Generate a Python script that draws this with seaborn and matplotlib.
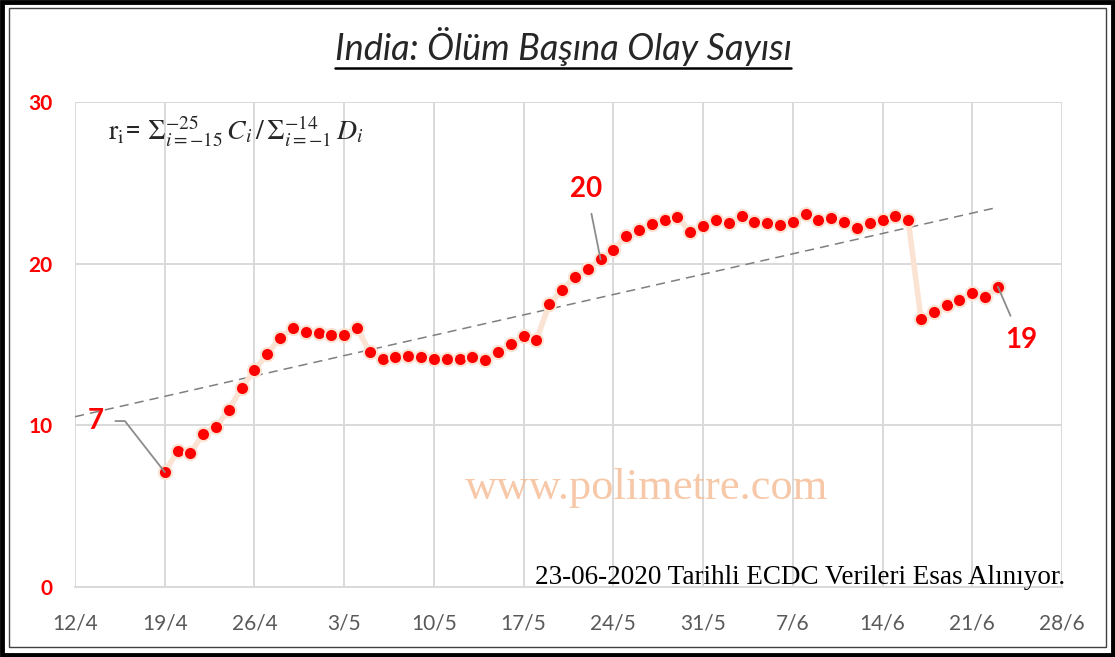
import numpy as np
import pandas as pd
import seaborn as sns
import matplotlib.pyplot as plt
from matplotlib.patches import Rectangle
from matplotlib.lines import Line2D

# daily values, 19/4/2020 - 23/6/2020
start_date = "2020-04-19"
ratio = [7.11, 8.39, 8.27, 9.48, 9.88, 10.97, 12.33,
         13.42, 14.41, 15.42, 16.02, 15.79, 15.69, 15.60,
         15.60, 16.02, 14.53, 14.10, 14.20, 14.30, 14.20,
         14.08, 14.08, 14.08, 14.20, 14.02, 14.51, 15.01,
         15.52, 15.29, 17.48, 18.37, 19.17, 19.65, 20.27,
         20.84, 21.71, 22.10, 22.43, 22.70, 22.90, 21.94,
         22.31, 22.70, 22.51, 22.92, 22.59, 22.51, 22.41,
         22.59, 23.09, 22.70, 22.80, 22.59, 22.20, 22.51,
         22.70, 22.92, 22.70, 16.57, 16.99, 17.46, 17.77,
         18.16, 17.95, 18.57]
tick_start = "2020-04-12"
tick_end = "2020-06-28"
y_ticks = [0, 10, 20, 30]
labels = {0: "7", 34: "20", 65: "19"}   # index -> label text

title = "India: Ölüm Başına Olay Sayısı"
footer = "23-06-2020 Tarihli ECDC Verileri Esas Alınıyor."
watermark = "www.polimetre.com"

df = pd.DataFrame({"date": pd.date_range(start_date, periods=len(ratio), freq="D"),
                   "ratio": ratio})

sns.set_style("white")
plt.rcParams['font.family'] = ['Lato', 'DejaVu Sans']
plt.rcParams['mathtext.fontset'] = 'stix'

fig = plt.figure(figsize=(11.15, 6.57), dpi=100)
ax = fig.add_axes([75 / 1115, 1 - 587 / 657, (1062 - 75) / 1115, (587 - 102) / 657])

# linear trendline, forecast back to the first tick
t0 = pd.Timestamp(tick_start)
days = (df["date"] - t0).dt.days.values
k, b = np.polyfit(days, df["ratio"].values, 1)
tr_days = np.array([0, days[-1]])
ax.plot(t0 + pd.to_timedelta(tr_days, unit="D"), k * tr_days + b,
        color="#7f7f7f", lw=1.1, ls=(0, (6, 4)), zorder=2)

sns.lineplot(data=df, x="date", y="ratio", ax=ax, color="#FBE3D4", lw=4,
             marker="o", markersize=9.5, markerfacecolor="red",
             markeredgecolor="#FBE3D4", markeredgewidth=1.5, zorder=3)

ticks = pd.date_range(tick_start, tick_end, freq="7D")
ax.set_xticks(ticks)
ax.set_xticklabels([f"{d.day}/{d.month}" for d in ticks], color="#595959", fontsize=15)
ax.set_xlim(ticks[0], ticks[-1])
ax.set_ylim(0, 30)
ax.set_yticks(y_ticks)
ax.set_yticklabels([str(v) for v in y_ticks], color="red", fontsize=15, fontweight="bold")
ax.tick_params(axis="x", length=0, pad=19)
ax.tick_params(axis="y", length=0, pad=16)
ax.grid(True, color="#D9D9D9", lw=1.4)
ax.set_axisbelow(True)
for s in ["top", "right", "left"]:
    ax.spines[s].set_visible(False)
ax.spines["bottom"].set_color("#D9D9D9")
ax.spines["bottom"].set_linewidth(1.4)
ax.set_xlabel("")
ax.set_ylabel("")

# point labels
offsets = {0: (-69, 51), 34: (-14, 70), 65: (23, -53)}
for i, txt in labels.items():
    ax.annotate(txt, xy=(df["date"][i], df["ratio"][i]), xytext=offsets[i],
                textcoords="offset pixels", ha="center", va="center",
                color="red", fontsize=20, fontweight="bold",
                arrowprops=dict(arrowstyle="-", color="#8c8c8c", lw=1.3,
                                shrinkA=6, shrinkB=0,
                                connectionstyle="angle,angleA=0,angleB=128,rad=0" if i == 0 else "arc3"))

ax.text(0.033, 0.94, r"$\mathrm{r_i}$= $\Sigma_{i=-15}^{-25}\,C_i\,/\,\Sigma_{i=-1}^{-14}\,D_i$",
        transform=ax.transAxes, fontsize=20, va="center", ha="left")

ax.text(0.579, 0.205, watermark, transform=ax.transAxes, fontsize=32,
        family="Liberation Serif", color="#F4B183", alpha=0.7, ha="center", va="center")
ax.text(1.003, 0.007, footer, transform=ax.transAxes, fontsize=19.5,
        family="Liberation Serif", color="black", ha="right", va="baseline")

# title with underline
t = fig.text(563 / 1115, 1 - 47 / 657, title, fontsize=26, style="italic",
             ha="center", va="center")
fig.canvas.draw()
bb = t.get_window_extent()
fig.add_artist(Line2D([bb.x0 / 1115, bb.x1 / 1115], [(bb.y0 - 1) / 657] * 2,
                      color="black", lw=1.8))

# double frame
fig.add_artist(Rectangle((0.002, 0.003), 0.996, 0.994, transform=fig.transFigure,
                         fill=False, ec="black", lw=3.5))
fig.add_artist(Rectangle((0.008, 0.015), 0.984, 0.973, transform=fig.transFigure,
                         fill=False, ec="#404040", lw=1))

fig.savefig("out.png", dpi=100)
